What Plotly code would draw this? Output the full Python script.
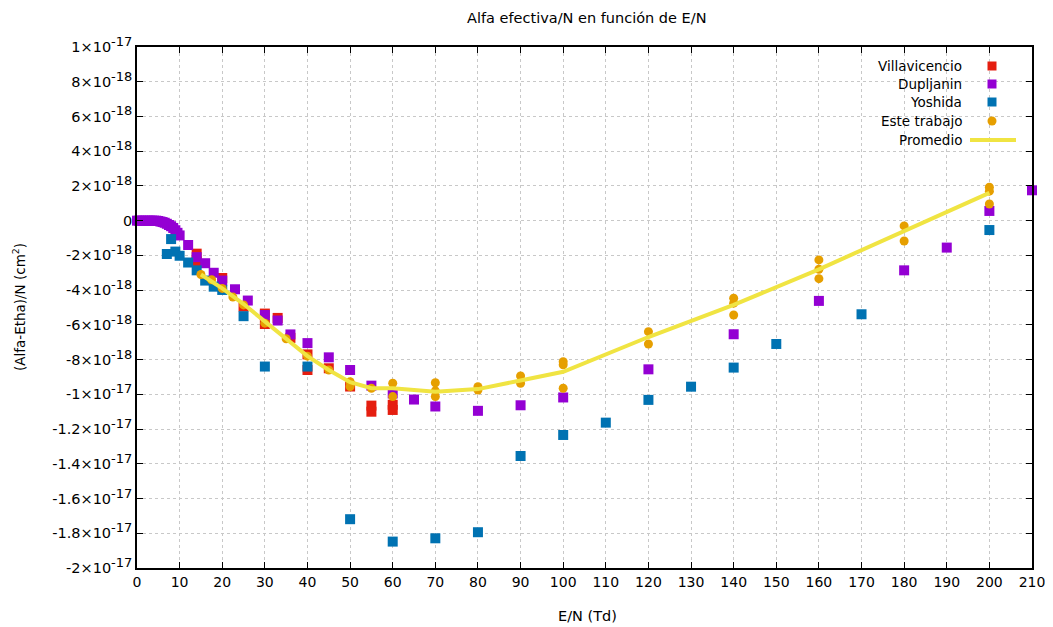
import plotly.graph_objects as go

SCALE = 1e-18

# ---------------- data (values in units of 1e-18 cm^2) ----------------
villa_x = [14, 14, 20, 25, 30, 30, 33, 36, 40, 40, 45, 50, 55, 55, 60, 60]
villa_y = [-1.9, -2.35, -3.3, -4.95, -5.35, -5.95, -5.6, -6.75, -7.7, -8.6, -8.5, -9.55, -10.65, -11.0, -10.6, -10.9]

dup_x = [0, 0.5, 1, 1.5, 2, 2.5, 3, 3.5, 4, 4.5, 5, 5.5, 6, 6.5, 7, 7.5, 8, 8.5, 9, 9.5, 10,
         12, 14, 16, 18, 20, 23, 26, 30, 33, 36, 40, 45, 50, 55, 60, 65, 70, 80, 90, 100,
         120, 140, 160, 180, 190, 200, 210]
dup_y = [0, 0, 0, 0, 0, 0, 0, 0, 0, 0, -0.02, -0.05, -0.08, -0.12, -0.18, -0.25, -0.32, -0.42, -0.55, -0.7, -0.85,
         -1.4, -2.1, -2.45, -3.0, -3.45, -3.95, -4.6, -5.43, -5.75, -6.55, -7.05, -7.87, -8.6, -9.5, -9.95, -10.3, -10.7,
         -10.95, -10.63, -10.18, -8.56, -6.54, -4.62, -2.86, -1.55, 0.56, 1.75]

yosh_x = [7, 8, 9, 10, 12, 14, 16, 18, 20, 25, 30, 40, 50, 60, 70, 80, 90, 100, 110, 120, 130, 140, 150, 170, 200]
yosh_y = [-1.92, -1.06, -1.78, -2.02, -2.41, -2.86, -3.45, -3.8, -3.99, -5.5, -8.4, -8.4, -17.19, -18.48, -18.29,
          -17.94, -13.55, -12.34, -11.63, -10.32, -9.56, -8.46, -7.1, -5.39, -0.54]

este_x = [15, 17.5, 20, 22.5, 25, 30, 35, 40, 45, 50, 50, 55, 60, 60, 70, 70, 70, 80, 80, 90, 90,
          100, 100, 100, 120, 120, 140, 140, 140, 160, 160, 160, 180, 180, 200, 200, 200]
este_y = [-3.1, -3.4, -3.9, -4.4, -4.85, -5.9, -6.8, -7.8, -8.6, -9.27, -9.55, -9.65, -9.36, -10.13, -9.33, -9.8, -10.13,
          -9.56, -9.75, -8.94, -9.36, -8.12, -8.3, -9.65, -6.39, -7.1, -4.47, -4.75, -5.43, -2.26, -2.8, -3.34,
          -0.3, -1.17, 1.93, 1.7, 0.96]

prom_x = [15, 20, 25, 30, 35, 40, 45, 50, 55, 60, 70, 80, 90, 100, 120, 140, 160, 180, 200]
prom_y = [-3.1, -3.9, -4.8, -5.8, -6.8, -7.8, -8.6, -9.3, -9.65, -9.65, -9.85, -9.7, -9.2, -8.7, -6.7, -4.85, -2.8, -0.6, 1.6]

x_ticks = list(range(0, 211, 10))
y_tickvals = [10, 8, 6, 4, 2, 0, -2, -4, -6, -8, -10, -12, -14, -16, -18, -20]
y_mant = ["1", "8", "6", "4", "2", "0", "-2", "-4", "-6", "-8", "-1", "-1.2", "-1.4", "-1.6", "-1.8", "-2"]
y_exp = ["-17", "-18", "-18", "-18", "-18", "", "-18", "-18", "-18", "-18", "-17", "-17", "-17", "-17", "-17", "-17"]

legend_names = ["Villavicencio", "Dupljanin", "Yoshida", "Este trabajo", "Promedio"]

C_RED = "#e51e10"
C_PUR = "#9400d3"
C_BLU = "#0072b2"
C_ORA = "#e69f00"
C_YEL = "#f0e442"

FONT = "DejaVu Sans"
FS = 13


def sc(v):
    return [a * SCALE for a in v]


y_ticktext = [m if e == "" else m + "×10<sup><span style=\"font-size:13px\">" + e + "</span></sup>"
              for m, e in zip(y_mant, y_exp)]

fig = go.Figure()
fig.add_trace(go.Scatter(x=villa_x, y=sc(villa_y), mode="markers",
                         marker=dict(symbol="square", size=10, color=C_RED), name=legend_names[0], cliponaxis=False))
fig.add_trace(go.Scatter(x=dup_x, y=sc(dup_y), mode="markers",
                         marker=dict(symbol="square", size=10, color=C_PUR), name=legend_names[1], cliponaxis=False))
fig.add_trace(go.Scatter(x=yosh_x, y=sc(yosh_y), mode="markers",
                         marker=dict(symbol="square", size=10, color=C_BLU), name=legend_names[2], cliponaxis=False))
fig.add_trace(go.Scatter(x=este_x, y=sc(este_y), mode="markers",
                         marker=dict(symbol="circle", size=9, color=C_ORA), name=legend_names[3], cliponaxis=False))
fig.add_trace(go.Scatter(x=prom_x, y=sc(prom_y), mode="lines", line=dict(color=C_YEL, width=4),
                         name=legend_names[4], cliponaxis=False))

# ---------------- geometry (screen px; the page body has an 8px margin) ----------------
OFF = 8
FW, FH = 1053 - OFF, 627 - OFF
L, R, T, B = 137 - OFF, 1032 - OFF, 47 - OFF, 568 - OFF
W, H = R - L, B - T


def px(xs):
    return (xs - OFF - L) / W


def py(ys):
    return (B - (ys - OFF)) / H


annotations = []
shapes = []
rows_y = [66, 84, 102, 121, 140]
key_x = 992
for i, name in enumerate(legend_names):
    annotations.append(dict(x=px(964), y=py(rows_y[i]), xref="paper", yref="paper", text=name,
                            showarrow=False, xanchor="right", yanchor="middle",
                            font=dict(family=FONT, size=13.5, color="#000000")))
colors = [C_RED, C_PUR, C_BLU]
for i, c in enumerate(colors):
    shapes.append(dict(type="rect", xref="paper", yref="paper",
                       x0=px(key_x - 4.5), x1=px(key_x + 4.5), y0=py(rows_y[i] + 4.5), y1=py(rows_y[i] - 4.5),
                       fillcolor=c, line=dict(width=0)))
shapes.append(dict(type="circle", xref="paper", yref="paper",
                   x0=px(key_x - 4.5), x1=px(key_x + 4.5), y0=py(rows_y[3] + 4.5), y1=py(rows_y[3] - 4.5),
                   fillcolor=C_ORA, line=dict(width=0)))
shapes.append(dict(type="line", xref="paper", yref="paper",
                   x0=px(970), x1=px(1016), y0=py(rows_y[4]), y1=py(rows_y[4]),
                   line=dict(color=C_YEL, width=4)))

# axis titles as positioned annotations
annotations.append(dict(x=px(19), y=py(307), xref="paper", yref="paper",
                        text="(Alfa-Etha)/N (cm<sup>2</sup>)", textangle=-90, showarrow=False,
                        xanchor="center", yanchor="middle", font=dict(family=FONT, size=13.5)))
annotations.append(dict(x=px(587), y=py(616), xref="paper", yref="paper",
                        text="E/N (Td)", showarrow=False,
                        xanchor="center", yanchor="middle", font=dict(family=FONT, size=14.5)))
annotations.append(dict(x=px(587), y=py(18), xref="paper", yref="paper",
                        text="Alfa efectiva/N en función de E/N", showarrow=False,
                        xanchor="center", yanchor="middle", font=dict(family=FONT, size=14.5)))

fig.update_layout(
    width=FW, height=FH,
    margin=dict(l=L, r=FW - R, t=T, b=FH - B, autoexpand=False),
    plot_bgcolor="white", paper_bgcolor="white",
    showlegend=False,
    font=dict(family=FONT, size=FS, color="#000000"),
    annotations=annotations,
    shapes=shapes,
)
fig.update_xaxes(range=[0, 210], tickvals=x_ticks, ticks="inside", ticklen=6, tickcolor="#000000",
                 showline=True, linecolor="#000000", linewidth=1.5, mirror="allticks",
                 showgrid=True, gridcolor="#c8c8c8", griddash="dot", gridwidth=1, zeroline=False,
                 tickfont=dict(family=FONT, size=14))
fig.update_yaxes(range=[-20 * SCALE, 10 * SCALE], tickvals=sc(y_tickvals), ticktext=y_ticktext,
                 ticks="inside", ticklen=6, tickcolor="#000000",
                 showline=True, linecolor="#000000", linewidth=1.5, mirror="allticks",
                 showgrid=True, gridcolor="#c8c8c8", griddash="dot", gridwidth=1, zeroline=False,
                 tickfont=dict(family=FONT, size=14.5))

fig.write_html("out.html")
